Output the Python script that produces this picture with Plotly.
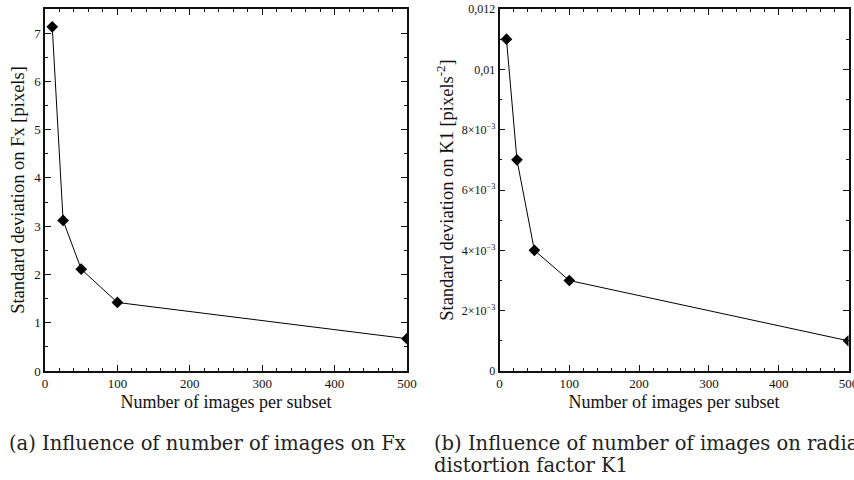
import plotly.graph_objects as go

# Data
n_images = [10, 25, 50, 100, 500]
std_fx = [7.13, 3.12, 2.11, 1.42, 0.67]
std_k1 = [0.011, 0.007, 0.004, 0.003, 0.001]

x_ticks = [0, 100, 200, 300, 400, 500]
fx_ticks = [0, 1, 2, 3, 4, 5, 6, 7]
k1_tickvals = [0, 0.002, 0.004, 0.006, 0.008, 0.010, 0.012]
k1_ticktext = ["0", "2×10<sup>−3</sup>", "4×10<sup>−3</sup>", "6×10<sup>−3</sup>",
               "8×10<sup>−3</sup>", "0,01", "0,012"]

W, H = 854, 480
SERIF = "Times New Roman, Liberation Serif, serif"
CAP = "DejaVu Serif, serif"

fig = go.Figure()
line_style = dict(color="black", width=1)
marker_style = dict(symbol="diamond", size=9, color="black")

fig.add_trace(go.Scatter(x=n_images, y=std_fx, mode="lines+markers",
                         line=line_style, marker=marker_style,
                         xaxis="x", yaxis="y", showlegend=False))
fig.add_trace(go.Scatter(x=n_images, y=std_k1, mode="lines+markers",
                         line=line_style, marker=marker_style,
                         xaxis="x2", yaxis="y2", showlegend=False))

def px(v):
    return v / W

def py(v):
    return 1 - v / H

ax_common = dict(showgrid=False, zeroline=False, showline=True, linecolor="#111",
                 linewidth=1.5, mirror="ticks", ticks="inside", ticklen=6,
                 tickwidth=1, tickcolor="#111",
                 tickfont=dict(family=SERIF, size=13, color="#111"),
                 ticklabeloverflow="allow",
                 automargin=False)

xdom1 = [px(45), px(407)]
xdom2 = [px(499.5), px(848.5)]
ydom = [py(371), py(9)]

xa = dict(ax_common, range=[0, 500], tickvals=x_ticks,
          minor=dict(ticks="inside", ticklen=3, dtick=20, tick0=0, tickcolor="#111"),
          title=dict(text="Number of images per subset",
                     font=dict(family=SERIF, size=18, color="#111"), standoff=5))

fig.update_layout(
    width=W, height=H,
    margin=dict(l=0, r=0, t=0, b=0),
    paper_bgcolor="white", plot_bgcolor="white",
    xaxis=dict(xa, domain=xdom1, anchor="y"),
    xaxis2=dict(xa, domain=xdom2, anchor="y2"),
    yaxis=dict(ax_common, domain=ydom, anchor="x", range=[0, 7.5], tickvals=fx_ticks,
               minor=dict(ticks="inside", ticklen=3, dtick=0.5, tick0=0, tickcolor="#111"),
               title=dict(text="Standard deviation on Fx [pixels]",
                          font=dict(family=SERIF, size=18.5, color="#111"), standoff=5)),
    yaxis2=dict(ax_common, domain=ydom, anchor="x2", range=[0, 0.012],
                tickvals=k1_tickvals, ticktext=k1_ticktext,
                tickfont=dict(family=SERIF, size=12, color="#111"),
                minor=dict(ticks="inside", ticklen=3, dtick=0.001, tick0=0, tickcolor="#111"),
                title=dict(text="Standard deviation on K1 [pixels<sup>-2</sup>]",
                           font=dict(family=SERIF, size=18.5, color="#111"), standoff=3)),
    annotations=[
        dict(text="(a) Influence of number of images on Fx", xref="paper", yref="paper",
             x=px(7), y=py(443), xanchor="left", yanchor="middle", showarrow=False,
             font=dict(family=CAP, size=19.5, color="#222")),
        dict(text="(b) Influence of number of images on radial", xref="paper", yref="paper",
             x=px(432), y=py(443), xanchor="left", yanchor="middle", showarrow=False,
             font=dict(family=CAP, size=19.5, color="#222")),
        dict(text="distortion factor K1", xref="paper", yref="paper",
             x=px(432), y=py(465), xanchor="left", yanchor="middle", showarrow=False,
             font=dict(family=CAP, size=19.5, color="#222")),
    ],
)

fig.write_html("out.html")
